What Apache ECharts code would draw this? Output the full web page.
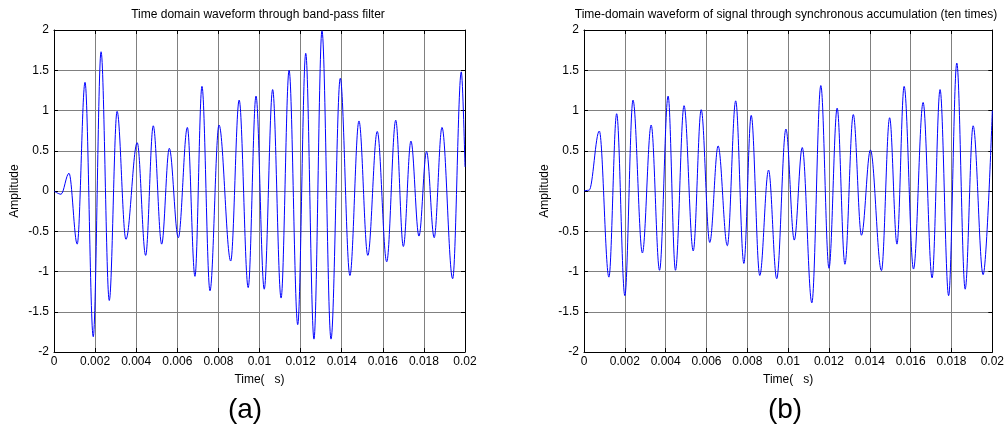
<!DOCTYPE html>
<html>
<head>
  <meta charset="UTF-8">
  <title>waveforms</title>
  <script src="https://cdn.jsdelivr.net/npm/echarts@6/dist/echarts.min.js"></script>
  <style>
    html, body { margin: 0; padding: 0; background: #fff; }
    #chart { width: 1007px; height: 430px; }
  </style>
</head>
<body>
  <div id="chart"></div>
  <script>
    // (a) band-pass filtered signal: extrema
    const timeA = [0, 0.00034, 0.00073, 0.00113, 0.00151, 0.00191, 0.00229, 0.00269, 0.00307, 0.0035,
      0.00405, 0.00446, 0.00483, 0.00524, 0.00561, 0.00605, 0.00649, 0.00686, 0.0072, 0.00759,
      0.00803, 0.0086, 0.00901, 0.00945, 0.00983, 0.01023, 0.01064, 0.01105, 0.01144, 0.01186,
      0.01225, 0.01265, 0.01304, 0.01348, 0.01393, 0.0144, 0.01484, 0.01527, 0.01573, 0.01619,
      0.01663, 0.017, 0.01737, 0.01776, 0.01813, 0.0185, 0.01888, 0.0194, 0.01982, 0.02]
    const ampA = [0, -0.04, 0.22, -0.66, 1.35, -1.81, 1.73, -1.36, 0.99, -0.6,
      0.6, -0.8, 0.81, -0.66, 0.53, -0.58, 0.79, -1.06, 1.3, -1.24,
      0.82, -0.87, 1.13, -1.2, 1.18, -1.22, 1.26, -1.33, 1.5, -1.66,
      1.71, -1.84, 1.99, -1.84, 1.4, -1.05, 0.87, -0.8, 0.74, -0.88,
      0.88, -0.69, 0.62, -0.56, 0.49, -0.58, 0.79, -1.09, 1.48, 0.3]

    // (b) after synchronous accumulation (ten times)
    const timeB = [0, 0.00025, 0.00075, 0.00122, 0.0016, 0.002, 0.0024, 0.00286, 0.00329, 0.0037,
      0.00412, 0.00448, 0.0049, 0.00535, 0.00574, 0.00616, 0.00657, 0.00702, 0.00743, 0.00783,
      0.00819, 0.00861, 0.00904, 0.00944, 0.00989, 0.0103, 0.01069, 0.01116, 0.0116, 0.012,
      0.0124, 0.01278, 0.01319, 0.01359, 0.01403, 0.01457, 0.01497, 0.01533, 0.01568, 0.01614,
      0.01661, 0.01705, 0.01744, 0.01786, 0.01826, 0.01867, 0.01906, 0.01955, 0.02]
    const ampB = [0, 0.01, 0.745, -1.07, 0.96, -1.3, 1.13, -0.77, 0.82, -0.985,
      1.18, -0.985, 1.06, -0.745, 1.01, -0.64, 0.56, -0.68, 1.12, -0.9,
      0.94, -1.05, 0.26, -1.09, 0.77, -0.61, 0.54, -1.39, 1.31, -0.96,
      1.03, -0.91, 0.95, -0.55, 0.51, -0.99, 0.91, -0.66, 1.3, -0.97,
      1.1, -1.08, 1.26, -1.3, 1.59, -1.22, 0.81, -1.04, 1.0]

    const xTicks = [0, 0.002, 0.004, 0.006, 0.008, 0.01, 0.012, 0.014, 0.016, 0.018, 0.02]
    const yTicks = [-2, -1.5, -1, -0.5, 0, 0.5, 1, 1.5, 2]

    const titles = ['Time domain waveform through band-pass filter',
      'Time-domain waveform of signal through synchronous accumulation (ten times)']
    const panelTags = ['(a)', '(b)']

    const font = 'Liberation Sans, Arial, sans-serif'
    const grids = [
      { left: 54, top: 30, width: 411, height: 322 },
      { left: 584, top: 30, width: 411, height: 322 }
    ]

    function xAxisFor(i, pos) {
      const bottom = pos === 'bottom'
      return {
        type: 'value', gridIndex: i, position: pos,
        min: xTicks[0], max: xTicks[xTicks.length - 1], interval: 0.002,
        name: bottom ? 'Time(   s)' : '', nameLocation: 'middle', nameGap: 22,
        nameTextStyle: { fontFamily: font, fontSize: 12, color: '#000' },
        axisLine: { show: true, onZero: false, lineStyle: { color: '#000', width: 1 } },
        axisTick: { show: true, inside: true, length: 4, lineStyle: { color: '#000' } },
        axisLabel: {
          show: bottom, color: '#000', fontFamily: font, fontSize: 12, margin: 4,
          formatter: v => String(+v.toFixed(3))
        },
        splitLine: { show: bottom, lineStyle: { color: '#808080', width: 1 } }
      }
    }

    function yAxisFor(i, pos) {
      const left = pos === 'left'
      return {
        type: 'value', gridIndex: i, position: pos,
        min: yTicks[0], max: yTicks[yTicks.length - 1], interval: 0.5,
        name: left ? 'Amplitude' : '', nameLocation: 'middle', nameGap: 33, nameRotate: 90,
        nameTextStyle: { fontFamily: font, fontSize: 12, color: '#000' },
        axisLine: { show: true, onZero: false, lineStyle: { color: '#000', width: 1 } },
        axisTick: { show: true, inside: true, length: 4, lineStyle: { color: '#000' } },
        axisLabel: { show: left, color: '#000', fontFamily: font, fontSize: 12, margin: 5 },
        splitLine: { show: left, lineStyle: { color: '#808080', width: 1 } }
      }
    }

    function lineSeries(i, t, a) {
      return {
        type: 'line', xAxisIndex: i * 2, yAxisIndex: i * 2,
        data: t.map((v, k) => [v, a[k]]),
        showSymbol: false, smooth: 0.36, smoothMonotone: 'x',
        lineStyle: { color: '#0000ff', width: 1 },
        itemStyle: { color: '#0000ff' },
        animation: false
      }
    }

    function label(x, y, text, size) {
      return {
        type: 'text', x: x, y: y,
        style: { text: text, font: size + 'px ' + font, fill: '#000', align: 'center', verticalAlign: 'middle' }
      }
    }

    const chart = echarts.init(document.getElementById('chart'))
    chart.setOption({
      animation: false,
      grid: grids,
      xAxis: [xAxisFor(0, 'bottom'), xAxisFor(0, 'top'), xAxisFor(1, 'bottom'), xAxisFor(1, 'top')],
      yAxis: [yAxisFor(0, 'left'), yAxisFor(0, 'right'), yAxisFor(1, 'left'), yAxisFor(1, 'right')],
      series: [lineSeries(0, timeA, ampA), lineSeries(1, timeB, ampB)],
      graphic: [
        label(258, 15, titles[0], 12),
        label(786, 15, titles[1], 12),
        label(245, 410, panelTags[0], 28),
        label(785, 410, panelTags[1], 28)
      ]
    })
  </script>
</body>
</html>
